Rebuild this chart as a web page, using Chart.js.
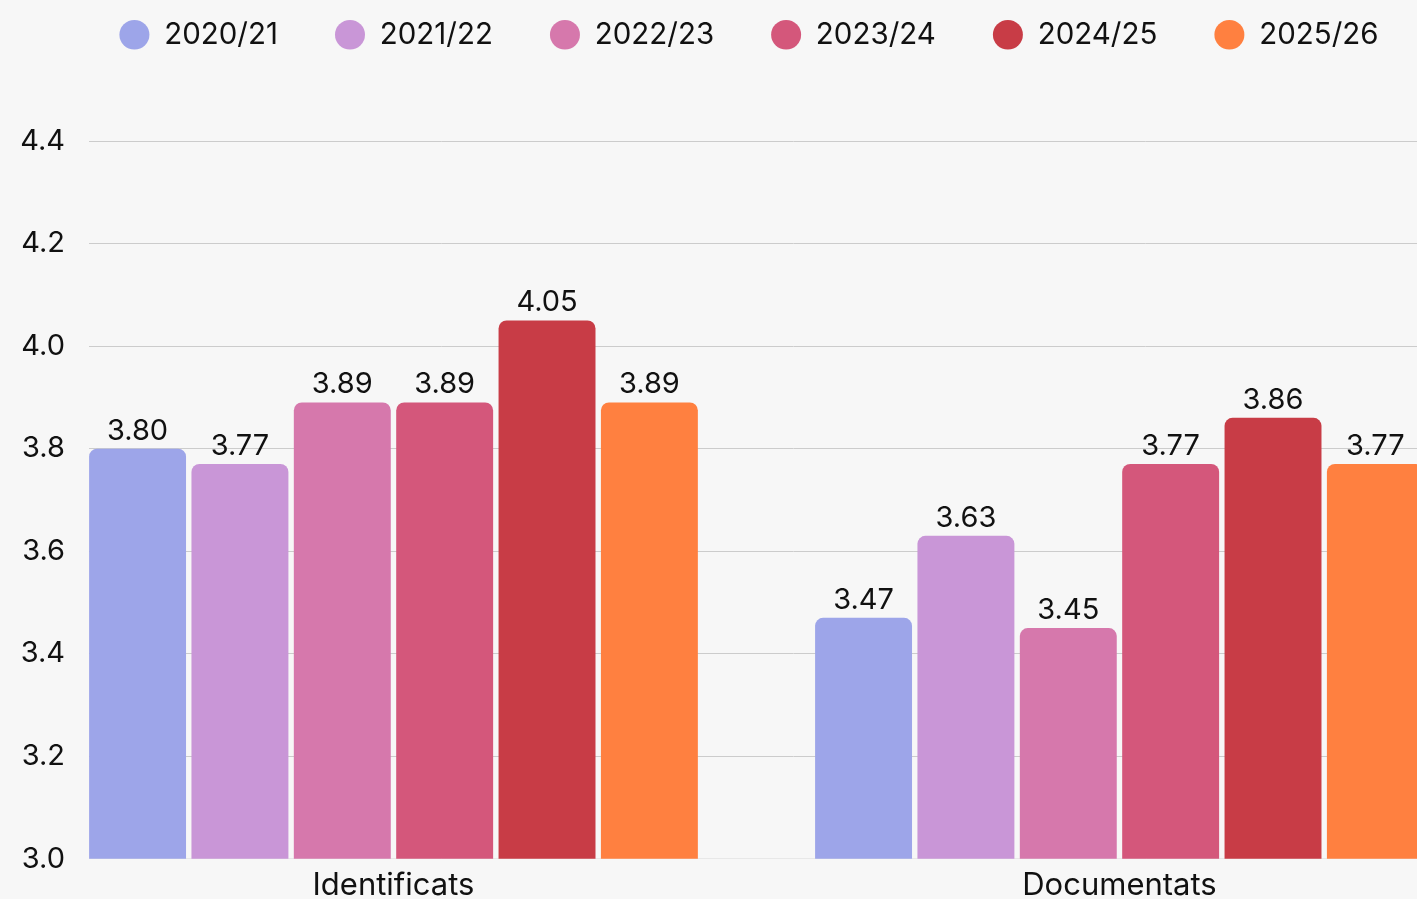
<!DOCTYPE html>
<html>
<head>
<meta charset="utf-8">
<script src="https://cdn.jsdelivr.net/npm/chart.js@4.4.1/dist/chart.umd.min.js"></script>
<style>
  html, body { margin: 0; padding: 0; background: #f7f7f7; overflow: hidden; }
  #wrap { width: 1498px; height: 912px; position: relative; }
</style>
</head>
<body>
<div id="wrap"><canvas id="c"></canvas></div>
<script>
const categories = ['Identificats', 'Documentats'];
const categoryX = [0, 1];
const seriesNames = ['2020/21', '2021/22', '2022/23', '2023/24', '2024/25', '2025/26'];
const s2020 = [3.80, 3.47];
const s2021 = [3.77, 3.63];
const s2022 = [3.89, 3.45];
const s2023 = [3.89, 3.77];
const s2024 = [4.05, 3.86];
const s2025 = [3.89, 3.77];
const yTicks = [3.0, 3.2, 3.4, 3.6, 3.8, 4.0, 4.2, 4.4];
const colors = ['#9DA5E9', '#C996D7', '#D678AC', '#D4577B', '#C83C46', '#FF8040'];

const seriesValues = [s2020, s2021, s2022, s2023, s2024, s2025];
const FONT = 'Inter';

const valueLabels = {
  id: 'valueLabels',
  afterDatasetsDraw(chart) {
    const ctx = chart.ctx;
    ctx.save();
    ctx.font = '29px ' + FONT;
    ctx.fillStyle = '#111';
    ctx.textAlign = 'center';
    ctx.textBaseline = 'alphabetic';
    chart.data.datasets.forEach((ds, i) => {
      const meta = chart.getDatasetMeta(i);
      meta.data.forEach((el, j) => {
        ctx.fillText(ds.data[j].y.toFixed(2), el.x, el.y - 9);
      });
    });
    ctx.restore();
  }
};

const legendTweak = {
  id: 'legendTweak',
  beforeInit(chart) {
    const lg = chart.legend;
    const origFit = lg.fit;
    lg.fit = function () {
      origFit.bind(this)();
      this.height = 141;
    };
    const origDraw = lg.draw;
    lg.draw = function () {
      const ctx = this.ctx;
      ctx.save();
      ctx.translate(0, -37);
      origDraw.apply(this, arguments);
      ctx.restore();
    };
  }
};

new Chart(document.getElementById('c'), {
  type: 'bar',
  data: {
    datasets: seriesValues.map((vals, i) => ({
      label: seriesNames[i],
      data: vals.map((v, j) => ({ x: categoryX[j], y: v })),
      backgroundColor: colors[i],
      borderRadius: 8,
      borderSkipped: 'start',
      categoryPercentage: 0.846,
      barPercentage: 0.947
    }))
  },
  options: {
    responsive: true,
    maintainAspectRatio: false,
    animation: false,
    layout: { padding: 0 },
    plugins: {
      legend: {
        position: 'top',
        labels: {
          font: { family: FONT, size: 29.5 },
          color: '#111',
          usePointStyle: true,
          pointStyle: 'circle',
          boxHeight: 21,
          pointStyleWidth: 30,
          padding: 57
        }
      },
      tooltip: { enabled: false }
    },
    scales: {
      x: {
        type: 'linear',
        offset: false,
        min: -0.4194,
        max: 1.5214,
        grid: { display: false, drawTicks: false, offset: false },
        border: { display: true, color: '#e8e8e8' },
        afterBuildTicks(scale) {
          scale.ticks = categoryX.map(v => ({ value: v }));
        },
        ticks: {
          font: { family: FONT, size: 31 },
          color: '#111',
          padding: 8,
          callback: (v) => categories[categoryX.indexOf(v)] ?? ''
        }
      },
      y: {
        min: 3.0,
        max: 4.4,
        afterBuildTicks(scale) {
          scale.ticks = yTicks.map(v => ({ value: v }));
        },
        afterFit(scale) { scale.width = 89; },
        grid: {
          drawTicks: false,
          color: (c) => (c.tick && c.tick.value === 3.0) ? 'rgba(0,0,0,0)' : '#cccccc'
        },
        border: { display: false },
        ticks: {
          font: { family: FONT, size: 29 },
          color: '#111',
          padding: 24,
          callback: (v) => v.toFixed(1)
        }
      }
    }
  },
  plugins: [valueLabels, legendTweak]
});
</script>
</body>
</html>
